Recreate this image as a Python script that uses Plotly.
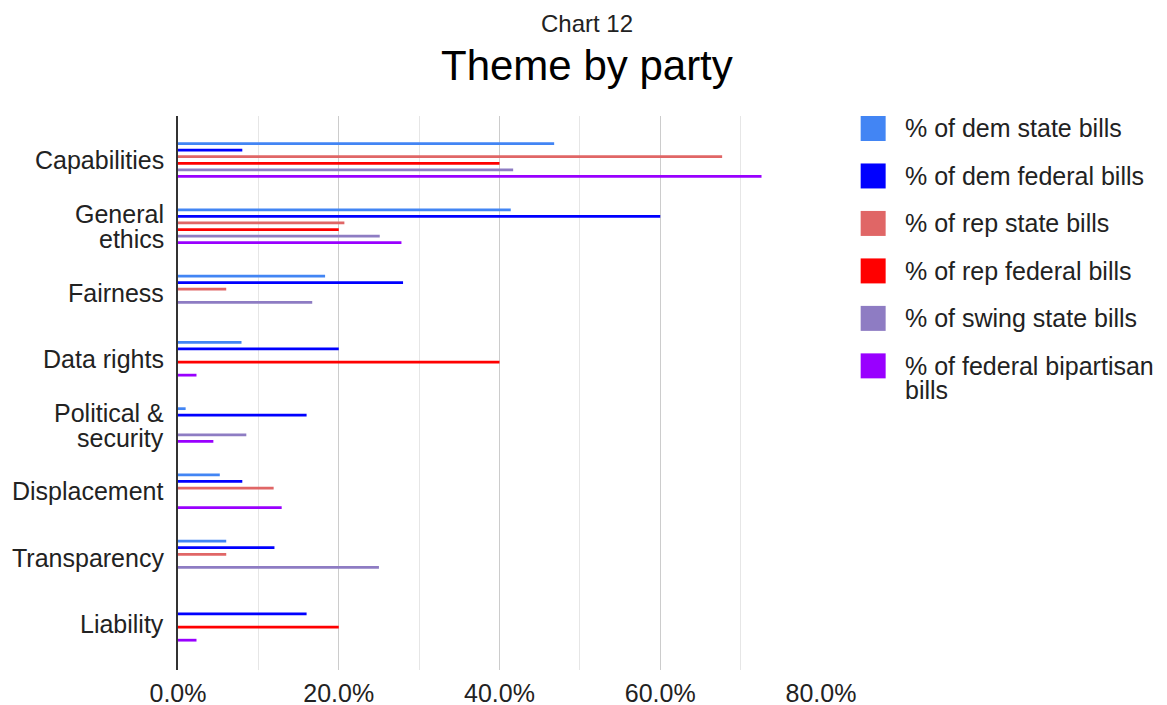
import plotly.graph_objects as go

# Themes (top to bottom) and share of bills in each group touching the theme
themes = ["Capabilities", "General ethics", "Fairness", "Data rights",
          "Political & security", "Displacement", "Transparency", "Liability"]
theme_label_lines = [["Capabilities"], ["General", "ethics"], ["Fairness"], ["Data rights"],
                     ["Political &", "security"], ["Displacement"], ["Transparency"], ["Liability"]]

dem_state = [0.468, 0.414, 0.183, 0.079, 0.0095, 0.052, 0.060, 0.0]
dem_federal = [0.08, 0.60, 0.28, 0.20, 0.16, 0.08, 0.12, 0.16]
rep_state = [0.677, 0.207, 0.060, 0.0, 0.0, 0.119, 0.060, 0.0]
rep_federal = [0.40, 0.20, 0.0, 0.40, 0.0, 0.0, 0.0, 0.20]
swing_state = [0.417, 0.251, 0.167, 0.0, 0.085, 0.0, 0.250, 0.0]
federal_bipartisan = [0.726, 0.278, 0.0, 0.023, 0.044, 0.129, 0.0, 0.023]

series_names = ["% of dem state bills", "% of dem federal bills", "% of rep state bills",
                "% of rep federal bills", "% of swing state bills",
                "% of federal bipartisan bills"]
legend_lines = [["% of dem state bills"], ["% of dem federal bills"], ["% of rep state bills"],
                ["% of rep federal bills"], ["% of swing state bills"],
                ["% of federal bipartisan", "bills"]]
series_values = [dem_state, dem_federal, rep_state, rep_federal, swing_state, federal_bipartisan]
colors = ["#4285F4", "#0000FF", "#E06666", "#FF0000", "#8E7CC3", "#9900FF"]

x_ticks = [0.0, 0.2, 0.4, 0.6, 0.8]

FONT = "Arial, Liberation Sans, sans-serif"
TEXT = "#222222"
W, H = 1167, 705
ML, MR, MT, MB = 177.5, 346, 115.7, 35
PW, PH = W - ML - MR, H - MT - MB


def px_x(px):
    return (px - ML) / PW


def px_y(py):
    return (H - MB - py) / PH


fig = go.Figure()
for name, vals, col in zip(series_names, series_values, colors):
    fig.add_trace(go.Bar(
        y=themes, x=vals, name=name, orientation="h",
        marker=dict(color=col, line=dict(width=0)),
        showlegend=False,
    ))

shapes = []
annotations = []

# Category labels, one text per line with tight line spacing
LINE_H = 25
for i, lines in enumerate(theme_label_lines):
    n = len(lines)
    for j, line in enumerate(lines):
        annotations.append(dict(text=line, xref="paper", yref="y",
                                x=px_x(165), y=i, yshift=((n - 1) / 2 - j) * LINE_H,
                                xanchor="right", yanchor="middle", showarrow=False,
                                font=dict(family=FONT, size=25, color=TEXT)))

# Legend: coloured squares with labels to the right of the plot
for i, (lines, col) in enumerate(zip(legend_lines, colors)):
    top = 115.7 + i * 47.5
    shapes.append(dict(type="rect", xref="paper", yref="paper",
                       x0=px_x(860.7), x1=px_x(885.7), y0=px_y(top + 25), y1=px_y(top),
                       fillcolor=col, line=dict(width=0), layer="above"))
    for j, line in enumerate(lines):
        annotations.append(dict(text=line, xref="paper", yref="paper",
                                x=px_x(903), y=px_y(top + 12.5 + j * 24),
                                xanchor="left", yanchor="middle", showarrow=False,
                                font=dict(family=FONT, size=25, color=TEXT)))

# Titles
annotations.append(dict(text="Chart 12", xref="paper", yref="paper",
                        x=px_x(587), y=px_y(23), xanchor="center", yanchor="middle",
                        showarrow=False, font=dict(family=FONT, size=24, color=TEXT)))
annotations.append(dict(text="Theme by party", xref="paper", yref="paper",
                        x=px_x(587), y=px_y(65.5), xanchor="center", yanchor="middle",
                        showarrow=False, font=dict(family=FONT, size=42, color="#000000")))

fig.update_layout(
    width=W, height=H,
    margin=dict(l=ML, r=MR, t=MT, b=MB, pad=0),
    paper_bgcolor="white", plot_bgcolor="white",
    barmode="group", bargap=0.407, bargroupgap=0.58,
    font=dict(family=FONT, size=25, color=TEXT),
    shapes=shapes, annotations=annotations,
    showlegend=False,
)
fig.update_xaxes(
    range=[0, 0.8], tickvals=x_ticks, tickformat=".1%",
    showgrid=True, gridcolor="#cccccc", gridwidth=1,
    minor=dict(dtick=0.1, showgrid=True, gridcolor="#e6e6e6", gridwidth=1),
    zeroline=False, showline=False, ticks="", ticklabelstandoff=6,
    automargin=False,
    tickfont=dict(family=FONT, size=25, color=TEXT),
)
fig.update_yaxes(
    categoryorder="array", categoryarray=themes,
    range=[7.697, -0.664],
    showgrid=False, zeroline=False, showticklabels=False,
    showline=True, linecolor="#333333", linewidth=2,
    ticks="", automargin=False,
)

fig.write_html("out.html")
